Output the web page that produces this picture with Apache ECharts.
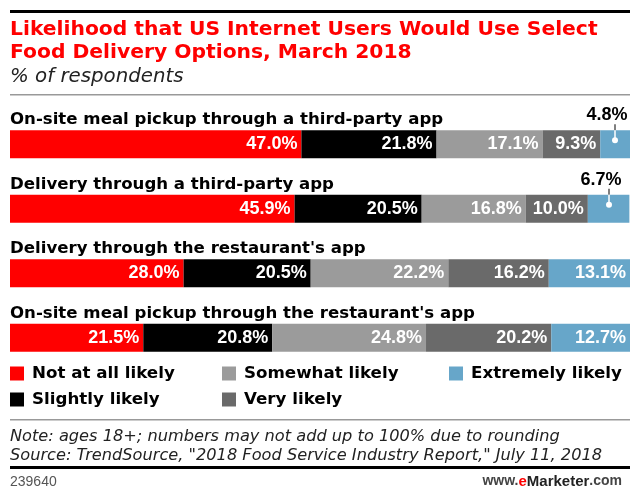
<!DOCTYPE html>
<html><head><meta charset="utf-8">
<script src="https://cdn.jsdelivr.net/npm/echarts@6/dist/echarts.min.js"></script>
<style>html,body{margin:0;padding:0;background:#fff}#c{width:630px;height:487px}</style>
</head><body><div id="c"></div>
<script>
const categories = [
  "On-site meal pickup through a third-party app",
  "Delivery through a third-party app",
  "Delivery through the restaurant's app",
  "On-site meal pickup through the restaurant's app"
];
const seriesNames = ["Not at all likely","Slightly likely","Somewhat likely","Very likely","Extremely likely"];
const notAtAll = [47.0, 45.9, 28.0, 21.5];
const slightly = [21.8, 20.5, 20.5, 20.8];
const somewhat = [17.1, 16.8, 22.2, 24.8];
const veryLikely = [9.3, 10.0, 16.2, 20.2];
const extremely = [4.8, 6.7, 13.1, 12.7];
const colors = ["#ff0000","#000000","#9b9b9b","#6a6a6a","#67a6c9"];
const allValues = [notAtAll, slightly, somewhat, veryLikely, extremely];
const OUTSIDE_LIMIT = 8;

const FONT = "'Liberation Sans', Arial, sans-serif";
const HFONT = "'DejaVu Sans', sans-serif";
const chart = echarts.init(document.getElementById('c'), null, {renderer:'canvas'});

const barSeries = allValues.map((vals, si) => ({
  name: seriesNames[si],
  type: 'bar',
  stack: 'total',
  barWidth: 28,
  itemStyle: {color: colors[si]},
  data: vals,
  label: {
    show: true,
    position: 'insideRight',
    distance: 4,
    color: '#fff',
    fontFamily: FONT,
    fontWeight: 'bold',
    fontSize: 18,
    formatter: p => (si === 4 && p.value < OUTSIDE_LIMIT) ? '' : p.value.toFixed(1) + '%'
  }
}));

const pointerSeries = {
  type: 'custom',
  silent: true,
  data: categories.map((c, i) => {
    const before = allValues.slice(0, 4).reduce((s, a) => s + a[i], 0);
    return [before, extremely[i], i];
  }).filter(d => d[1] < OUTSIDE_LIMIT),
  renderItem: (params, api) => {
    const start = api.value(0), v = api.value(1), idx = api.value(2);
    const pt = api.coord([start + v / 2, idx]);
    const cx = Math.round(pt[0]), cy = pt[1];
    const top = cy - 14;
    return {
      type: 'group',
      children: [
        {type: 'line', shape: {x1: cx, y1: top - 6, x2: cx, y2: top}, style: {stroke: '#555', lineWidth: 1.5}},
        {type: 'line', shape: {x1: cx, y1: top, x2: cx, y2: cy - 4}, style: {stroke: '#fff', lineWidth: 1.5}},
        {type: 'circle', shape: {cx: cx, cy: cy - 4, r: 3}, style: {fill: '#fff'}},
        {type: 'text', style: {text: v.toFixed(1) + '%', x: cx - 8, y: top - 6, align: 'center', verticalAlign: 'bottom',
          fill: '#000', font: 'bold 18px ' + FONT}}
      ]
    };
  },
  encode: {x: [0, 1], y: 2},
  z: 10
};

chart.setOption({
  animation: false,
  backgroundColor: '#fff',
  title: [
    {text: 'Likelihood that US Internet Users Would Use Select\nFood Delivery Options, March 2018', left: 10, top: 18, padding: 0,
     textStyle: {color: '#ff0000', fontFamily: HFONT, fontWeight: 'bold', fontSize: 20.3, lineHeight: 23}},
    {text: '% of respondents', left: 10, top: 67, padding: 0,
     textStyle: {color: '#222', fontFamily: HFONT, fontStyle: 'italic', fontWeight: 'normal', fontSize: 19.8}},
    {text: 'Note: ages 18+; numbers may not add up to 100% due to rounding\nSource: TrendSource, "2018 Food Service Industry Report," July 11, 2018',
     left: 10, top: 428, padding: 0,
     textStyle: {color: '#222', fontFamily: HFONT, fontStyle: 'italic', fontWeight: 'normal', fontSize: 16.2, lineHeight: 18.5}},
    {text: '239640', left: 10, top: 475, padding: 0,
     textStyle: {color: '#555', fontFamily: FONT, fontWeight: 'normal', fontSize: 14}},
    {text: '{a|www.}{e|e}{b|Marketer}{a|.com}', right: 8, top: 474, padding: 0,
     textStyle: {rich: {
       a: {color: '#444', fontFamily: FONT, fontSize: 14},
       e: {color: '#ff0000', fontFamily: FONT, fontSize: 15, fontWeight: 'bold'},
       b: {color: '#222', fontFamily: FONT, fontSize: 15, fontWeight: 'bold'}
     }}}
  ],
  legend: [
    {data: [seriesNames[0], seriesNames[1]], left: 10, top: 365},
    {data: [seriesNames[2], seriesNames[3]], left: 222, top: 365},
    {data: [seriesNames[4]], left: 449, top: 365}
  ].map(l => Object.assign(l, {
    orient: 'vertical', itemWidth: 14, itemHeight: 14, itemGap: 9, icon: 'rect', selectedMode: false, padding: 0,
    textStyle: {color: '#000', fontFamily: HFONT, fontWeight: 'bold', fontSize: 16.7, padding: [0, 0, 0, 3]}
  })),
  grid: {left: 10, right: 0, top: 112, height: 258, containLabel: false, outerBoundsMode: 'none'},
  xAxis: {type: 'value', min: 0, max: 100, show: false},
  yAxis: {
    type: 'category', data: categories, inverse: true,
    axisLine: {show: false}, axisTick: {show: false}, splitLine: {show: false},
    axisLabel: {
      inside: false, align: 'left', margin: 0, verticalAlign: 'bottom', padding: [0, 0, 16, 0],
      color: '#000', fontFamily: HFONT, fontWeight: 'bold', fontSize: 16.6
    }
  },
  graphic: [
    {type: 'rect', shape: {x: 10, y: 10, width: 620, height: 3}, style: {fill: '#000'}},
    {type: 'rect', shape: {x: 10, y: 94, width: 620, height: 1.5}, style: {fill: '#999'}},
    {type: 'rect', shape: {x: 10, y: 419, width: 620, height: 1.5}, style: {fill: '#999'}},
    {type: 'rect', shape: {x: 10, y: 466, width: 620, height: 3}, style: {fill: '#000'}}
  ],
  series: barSeries.concat([pointerSeries])
});
</script></body></html>
